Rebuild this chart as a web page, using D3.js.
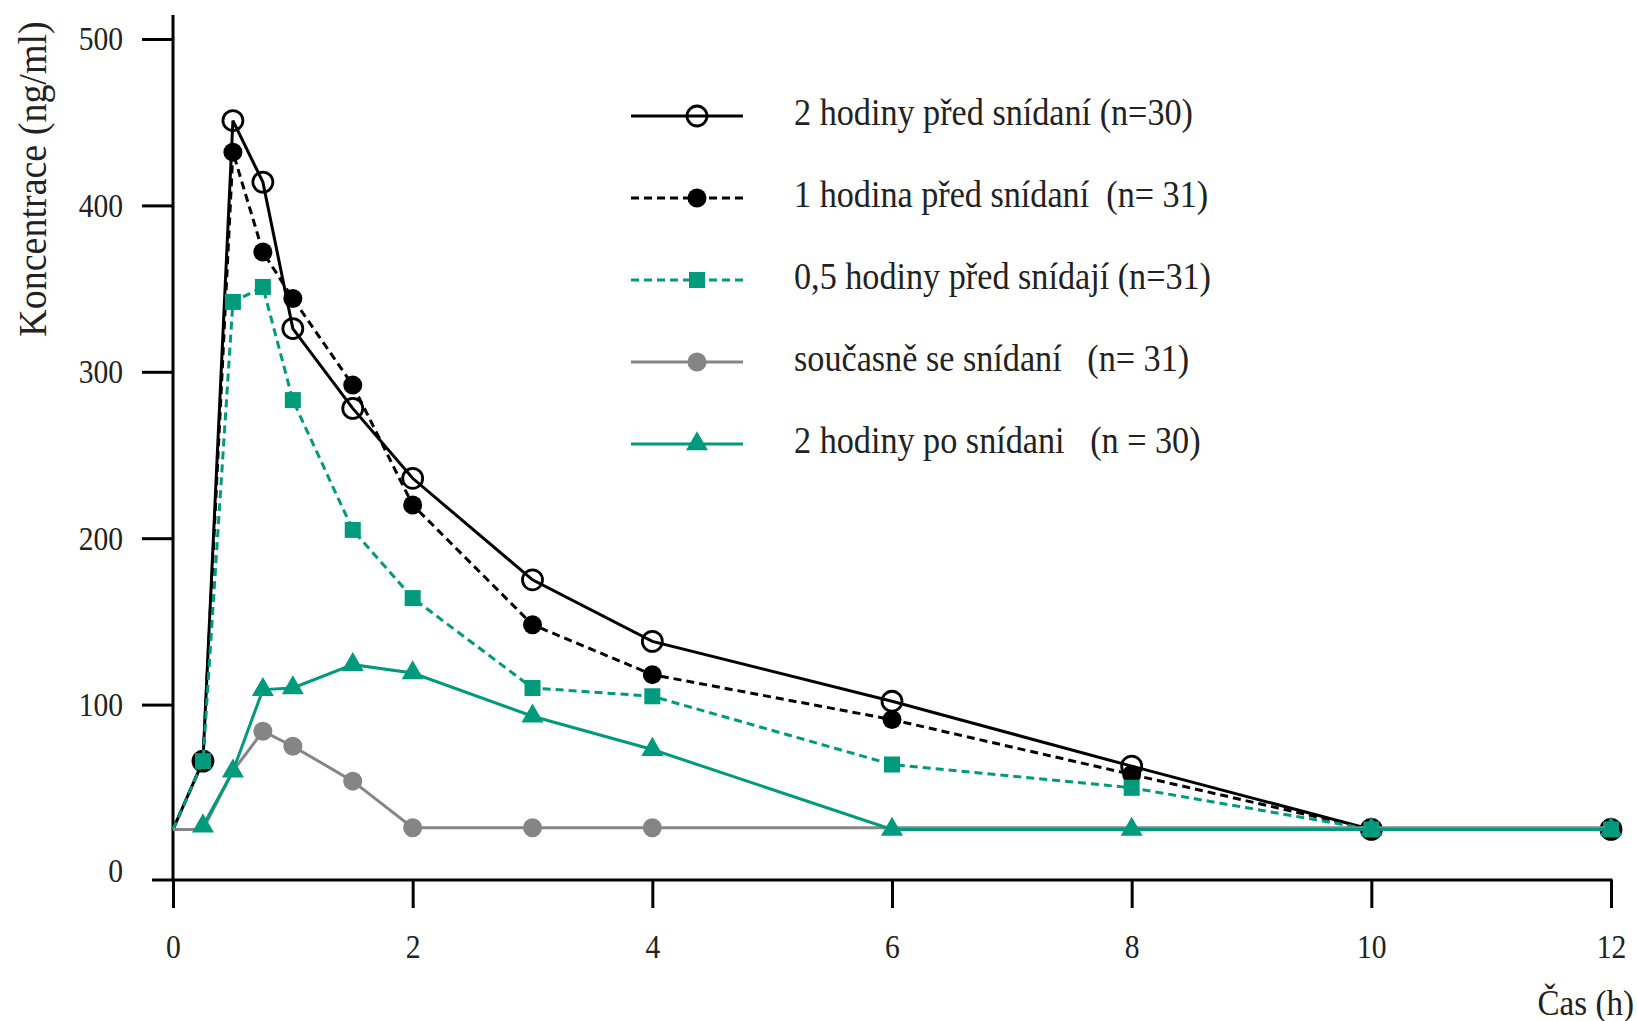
<!DOCTYPE html>
<html><head><meta charset="utf-8">
<script src="https://cdn.jsdelivr.net/npm/d3@7"></script>
<style>body{margin:0;background:#fff}svg{display:block}text{font-family:"Liberation Serif","Times New Roman",serif;fill:#222;white-space:pre}</style>
</head><body>
<svg id="chart" width="1637" height="1021"></svg>
<script>
const times = [0, 0.25, 0.5, 0.75, 1, 1.5, 2, 3, 4, 6, 8, 10, 12];
const twoHoursBefore   = [25, 66, 451, 414, 326, 278, 236, 175, 138, 102, 63, 25, 25];
const oneHourBefore    = [25, 66, 432, 372, 344, 292, 220, 148, 118, 91, 58, 25, 25];
const halfHourBefore   = [25, 66, 342, 351, 283, 205, 164, 110, 105, 64, 50, 25, 25];
const withBreakfast    = [25, 25, 60, 84, 75, 54, 26, 26, 26, 26, 26, 26, 26];
const twoHoursAfter    = [null, 27, 60, 109, 110, 124, 119, 93, 73, 25, 25, 25, 25];
const seriesLabels = [
  "2 hodiny před snídaní (n=30)",
  "1 hodina před snídaní  (n= 31)",
  "0,5 hodiny před snídají (n=31)",
  "současně se snídaní   (n= 31)",
  "2 hodiny po snídani   (n = 30)"
];
const xTicks = [0, 2, 4, 6, 8, 10, 12];
const yTicks = [0, 100, 200, 300, 400, 500];
const xTitle = "Čas (h)";
const yTitle = "Koncentrace (ng/ml)";

const teal = "#009a7c", grey = "#858585";
const styles = [
  {color:"#000", dash:null, marker:"open"},
  {color:"#000", dash:"8,5", marker:"dot"},
  {color:teal, dash:"8,5", marker:"square"},
  {color:grey, dash:null, marker:"dot"},
  {color:teal, dash:null, marker:"triangle"}
];
const values = [twoHoursBefore, oneHourBefore, halfHourBefore, withBreakfast, twoHoursAfter];

const svg = d3.select("#chart");
const x = d3.scaleLinear().domain([0, 12]).range([173, 1611]);
const y = d3.scaleLinear().domain([0, 500]).range([871, 39]);
const axisY = 880;

function condense(sel, s) {
  sel.each(function() {
    const t = d3.select(this);
    const tx = +t.attr("x") || 0;
    t.attr("transform", `translate(${tx * (1 - s)},0) scale(${s},1)`);
  });
}

svg.append("line").attr("x1", x(0)).attr("x2", x(0)).attr("y1", 15).attr("y2", axisY)
  .attr("stroke", "#000").attr("stroke-width", 3);
svg.append("line").attr("x1", 152).attr("x2", x(12) + 1.5).attr("y1", axisY).attr("y2", axisY)
  .attr("stroke", "#000").attr("stroke-width", 3);

const gy = svg.append("g").attr("transform", `translate(${x(0)},0)`)
  .call(d3.axisLeft(y).tickValues(yTicks).tickSize(31).tickPadding(19).tickSizeOuter(0));
gy.select(".domain").remove();
gy.selectAll(".tick line").attr("stroke-width", 3).attr("stroke", "#000")
  .filter(d => d === 0).remove();
gy.selectAll(".tick text").attr("font-size", 34).attr("font-family", "Liberation Serif").attr("fill", "#222").call(condense, 0.87);

const gx = svg.append("g").attr("transform", `translate(0,${axisY})`)
  .call(d3.axisBottom(x).tickValues(xTicks).tickSize(28).tickSizeOuter(0));
gx.select(".domain").remove();
gx.selectAll(".tick line").attr("stroke-width", 3).attr("stroke", "#000");
gx.selectAll(".tick text").attr("font-size", 34).attr("font-family", "Liberation Serif").attr("fill", "#222")
  .attr("y", 78).attr("dy", 0).call(condense, 0.87);

svg.append("text").attr("x", 1634).attr("y", 1015).attr("text-anchor", "end")
  .attr("font-size", 36).text(xTitle).call(condense, 0.92);
svg.append("text").attr("transform", "translate(46,179) rotate(-90) scale(0.95,1)").attr("text-anchor", "middle")
  .attr("font-size", 40).text(yTitle);

function drawMarker(g, type, color, cx, cy) {
  if (type === "open") {
    g.append("circle").attr("cx", cx).attr("cy", cy).attr("r", 10)
      .attr("fill", "none").attr("stroke", color).attr("stroke-width", 2.8);
  } else if (type === "dot") {
    g.append("circle").attr("cx", cx).attr("cy", cy).attr("r", 9.5).attr("fill", color);
  } else if (type === "square") {
    g.append("rect").attr("x", cx - 8).attr("y", cy - 8).attr("width", 16).attr("height", 16).attr("fill", color);
  } else if (type === "triangle") {
    g.append("path").attr("transform", `translate(${cx},${cy})`)
      .attr("d", d3.symbol(d3.symbolTriangle, 210)()).attr("fill", color);
  }
}

const line = d3.line().defined(d => d[1] != null).x(d => x(d[0])).y(d => y(d[1]));
values.forEach((vals, i) => {
  const st = styles[i];
  const pts = times.map((t, j) => [t, vals[j]]);
  const g = svg.append("g");
  g.append("path").attr("d", line(pts)).attr("fill", "none").attr("stroke", st.color)
    .attr("stroke-width", 3).attr("stroke-dasharray", st.dash);
  pts.forEach((p, j) => {
    if (j === 0 || p[1] == null) return;
    if (i === 3 && twoHoursAfter[j] != null && Math.abs(twoHoursAfter[j] - p[1]) < 5) return;
    drawMarker(g, st.marker, st.color, x(p[0]), y(p[1]));
  });
});

const legendY = d3.scaleLinear().domain([0, 4]).range([116, 444]);
seriesLabels.forEach((lab, i) => {
  const st = styles[i];
  const ly = legendY(i);
  const g = svg.append("g");
  g.append("line").attr("x1", 631).attr("x2", 743).attr("y1", ly).attr("y2", ly)
    .attr("stroke", st.color).attr("stroke-width", 3).attr("stroke-dasharray", st.dash);
  drawMarker(g, st.marker, st.color, 697, ly);
  g.append("text").attr("x", 794).attr("y", ly + 9).attr("font-size", 38).text(lab).call(condense, 0.9);
});
</script>
</body></html>
